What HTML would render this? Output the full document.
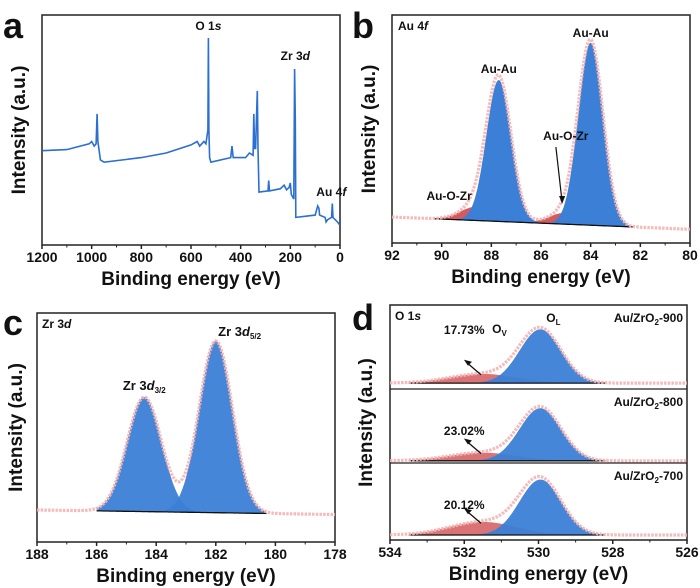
<!DOCTYPE html>
<html><head><meta charset="utf-8"><style>
body{margin:0;background:#fff}
svg{display:block;font-family:"Liberation Sans",sans-serif;font-weight:bold}
</style></head><body>
<svg id="fig" width="700" height="588" viewBox="0 0 700 588"></svg>
<script>
// ---------- data ----------
const surveyE=[1200,1100,1010,1000,990,982,978,975,965,950,800,700,600,575,565,548,540,532,530,528,525,520,440,435,430,380,365,350,347,344,340,333,330,326,290,287,284,240,225,215,205,200,196,186,183,180,178,100,90,85,82,60,56,50,34,31,28,10,3,0];
const surveyI=[41,41.5,44,45,43,44,57,45,37,36,38,40,43.5,45,43,45,44,50,90,50,38,36,38,43,38,38,40,39,57,42,42,67,42,23,23.5,28,23.5,24.5,26,24,25,27,22,20,76.5,55,12,13,17,16,13,12,10,11,12,18,12,10,9,9];
const surveyTicks=[1200,1000,800,600,400,200,0];
// panel b
const auCenters=[87.7,84.0];const auHeights=[62,80];const auSig=[0.5,0.5];
const auOxCenters=[88.6,85.0];const auOxHeights=[6,5];const auOxSig=[0.65,0.65];
const auBase=[11.4,6];const auTicks=[92,90,88,86,84,82,80];
// panel c
const zrCenters=[184.4,182.0];const zrHeights=[50,75];const zrSig=[0.58,0.56];
const zrBase=[14,12];const zrTicks=[188,186,184,182,180,178];
// panel d
const oSamples=["Au/ZrO2-900","Au/ZrO2-800","Au/ZrO2-700"];
const oPct=["17.73%","23.02%","20.12%"];
const oLHeights=[64,71,72];const oVHeights=[11,11,17];const oBase=[7,3,6.5];
const oLCenter=529.95,oVCenter=531.5,oLSig=0.56,oVSig=0.9;
const oTicks=[534,532,530,528,526];

// ---------- helpers ----------
const NS="http://www.w3.org/2000/svg";const svg=document.getElementById('fig');
function mk(tag,attrs,parent,name){const e=document.createElementNS(NS,tag);for(const k in attrs)e.setAttribute(k,attrs[k]);


(parent||svg).appendChild(e);return e;}
function txt(x,y,s,size,parent,name,anchor,rot){const t=mk('text',{x:x,y:y,'font-size':size,'text-anchor':anchor||'middle',fill:'#111'},parent,name);
if(rot)t.setAttribute('transform','rotate(-90 '+x+' '+y+')');t.innerHTML=s;return t;}
function scale(d0,d1,r0,r1){return v=>r0+(v-d0)/(d1-d0)*(r1-r0);}
function g(x,c,h,s){return h*Math.exp(-0.5*((x-c)/s)**2);}
function axes(x0,x1,y0,y1,xmin,xmax,ticks,label,ytitleX,letter,lx,ly){
  mk('rect',{x:x0,y:y0,width:x1-x0,height:y1-y0,fill:'none',stroke:'#222','stroke-width':1.5},null,letter+'-plot-frame');
  const X=scale(xmin,xmax,x0,x1);
  ticks.forEach((t,i)=>{const px=X(t);mk('line',{x1:px,x2:px,y1:y1,y2:y1+4,stroke:'#222','stroke-width':1.5},null,letter+'-x-tick');
    txt(px,y1+17,t,14,null,letter+'-x-tick-label');
    if(i<ticks.length-1){const m=X((t+ticks[i+1])/2);mk('line',{x1:m,x2:m,y1:y1,y2:y1+2.5,stroke:'#222','stroke-width':1},null,letter+'-x-minor-tick');}});
  txt((x0+x1)/2,y1+40,'Binding energy (eV)',19,null,letter+'-x-axis-title');
  txt(ytitleX,(y0+y1)/2,'Intensity (a.u.)',19,null,letter+'-y-axis-title','middle',true);
  txt(lx,ly,letter,36,null,'panel-label-'+letter,'start');
  return X;}
function path(pts){return 'M'+pts.map(p=>p[0].toFixed(1)+','+p[1].toFixed(1)).join('L');}

// ---------- panel a ----------
(function(){const X=axes(42,340,15,245,1200,0,surveyTicks,'','25','a',3,38);const Y=scale(0,100,245,15);
const pts=surveyE.map((e,i)=>[X(e),Y(surveyI[i])]);
mk('path',{d:path(pts),fill:'none',stroke:'#2b6fd1','stroke-width':1.6},null,'survey-spectrum-line');
txt(X(530),30,'O 1<tspan font-style="italic">s</tspan>',12,null,'o1s-label');
txt(X(180),60,'Zr 3<tspan font-style="italic">d</tspan>',12,null,'zr3d-label');
txt(X(35),196,'Au 4<tspan font-style="italic">f</tspan>',12,null,'au4f-label');})();

// ---------- generic peak panel ----------
function peakPanel(X,Y,xa,xb,fa,fb,base,comps,prefix){
  const N=240;const bl=x=>base[0]+(x-xa)/(xb-xa)*(base[1]-base[0]);
  comps.forEach((c,ci)=>{const top=[],bot=[];for(let i=0;i<=N;i++){const x=fa+(fb-fa)*i/N;top.push([X(x),Y(bl(x)+g(x,c.c,c.h,c.s))]);bot.unshift([X(x),Y(bl(x))]);}
    mk('path',{d:path(top.concat(bot))+'Z',fill:c.col,'fill-opacity':c.op||1,stroke:'none'},null,prefix+'-component-'+c.n);});
  const bp=[];for(let i=0;i<=N;i++){const x=fa+(fb-fa)*i/N;bp.push([X(x),Y(bl(x))]);}
  mk('path',{d:path(bp),fill:'none',stroke:'#111','stroke-width':1.3},null,prefix+'-background-line');
  const env=[];for(let i=0;i<=N;i++){const x=xa+(xb-xa)*i/N;let v=bl(x);comps.forEach(c=>v+=g(x,c.c,c.h,c.s));env.push([X(x),Y(v)]);}
  mk('path',{d:path(env),fill:'none',stroke:'#f4b3b3','stroke-width':3.2,'stroke-dasharray':'2.5,1.2','stroke-opacity':0.9},null,prefix+'-raw-data');
}

// ---------- panel b ----------
(function(){const X=axes(392,690,15,243,92,80,auTicks,'','375','b',352,38);const Y=scale(0,100,243,15);
const comps=[];auOxCenters.forEach((c,i)=>comps.push({c:c,h:auOxHeights[i],s:auOxSig[i],col:'#d35a5e',n:'au-o-zr-'+i}));
auCenters.forEach((c,i)=>comps.push({c:c,h:auHeights[i],s:auSig[i],col:'#3b7fd6',n:'au-au-'+i}));
peakPanel(X,Y,92,80,90.3,82.3,auBase,comps,'b');
txt(398,30,'Au 4<tspan font-style="italic">f</tspan>',12,null,'au4f-title','start');
txt(X(87.7),73,'Au-Au',12,null,'au-au-label-1');txt(X(84.0),37,'Au-Au',12,null,'au-au-label-2');
txt(X(89.7),200,'Au-O-Zr',12,null,'au-o-zr-label-1');txt(X(85.0),140,'Au-O-Zr',12,null,'au-o-zr-label-2');
mk('line',{x1:X(85.4),y1:147,x2:X(85.15),y2:202,stroke:'#111','stroke-width':1.2},null,'au-o-zr-arrow');
mk('path',{d:'M'+(X(85.15)-3)+',196L'+X(85.15)+',204L'+(X(85.15)+3)+',196Z',fill:'#111'},null,'au-o-zr-arrowhead');})();

// ---------- panel c ----------
(function(){const X=axes(37,335,313,542,188,178,zrTicks,'','22','c',3,335);const Y=scale(0,100,542,313);
const comps=zrCenters.map((c,i)=>({c:c,h:zrHeights[i],s:zrSig[i],col:'#3b7fd6',op:0.95,n:'zr-'+i}));
peakPanel(X,Y,188,178,186,180.3,zrBase,comps,'c');
txt(42,328,'Zr 3<tspan font-style="italic">d</tspan>',12,null,'zr3d-title','start');
txt(X(184.4),390,'Zr 3<tspan font-style="italic">d</tspan><tspan font-size="8" dy="3">3/2</tspan>',13,null,'zr3d32-label');
txt(X(181.2),336,'Zr 3<tspan font-style="italic">d</tspan><tspan font-size="8" dy="3">5/2</tspan>',13,null,'zr3d52-label');})();

// ---------- panel d ----------
(function(){const X=axes(390,687,305,540,534,526,oTicks,'','372','d',352,330);
const subs=[[305,389],[389,463],[463,540]];
subs.forEach((s,k)=>{const Y=scale(0,100,s[1],s[0]);
  if(k>0)mk('line',{x1:390,x2:687,y1:s[0],y2:s[0],stroke:'#222','stroke-width':1.3},null,'d-subpanel-divider');
  const comps=[{c:oVCenter,h:oVHeights[k],s:oVSig,col:'#d35a5e',op:0.85,n:'ov-'+k},{c:oLCenter,h:oLHeights[k],s:oLSig,col:'#3b7fd6',op:0.95,n:'ol-'+k}];
  peakPanel(X,Y,534,526,533.5,528.2,[oBase[k],oBase[k]],comps,'d'+k);
  const lab=oSamples[k].replace('O2','O<tspan font-size="8" dy="3">2</tspan><tspan dy="-3">')+'</tspan>';
  txt(683,s[0]+17,lab,12,null,'sample-label-'+k,'end');
  txt(X(532.0),s[0]+(k==0?29:46),oPct[k],12,null,'ov-percent-'+k);
  const ax=X(531.55),ay=Y(oBase[k]+oVHeights[k]*0.9);
  mk('line',{x1:ax,y1:ay,x2:ax-14,y2:ay-12,stroke:'#111','stroke-width':1.3},null,'ov-arrow-'+k);
  mk('path',{d:'M'+(ax-17)+','+(ay-15)+'l8,2l-4,4Z',fill:'#111'},null,'ov-arrowhead-'+k);});
txt(395,320,'O 1<tspan font-style="italic">s</tspan>',12,null,'o1s-title','start');
txt(X(531.05),333,'O<tspan font-size="8" dy="3">V</tspan>',12,null,'ov-label');
txt(X(529.6),322,'O<tspan font-size="8" dy="3">L</tspan>',12,null,'ol-label');})();
</script>
</body></html>
